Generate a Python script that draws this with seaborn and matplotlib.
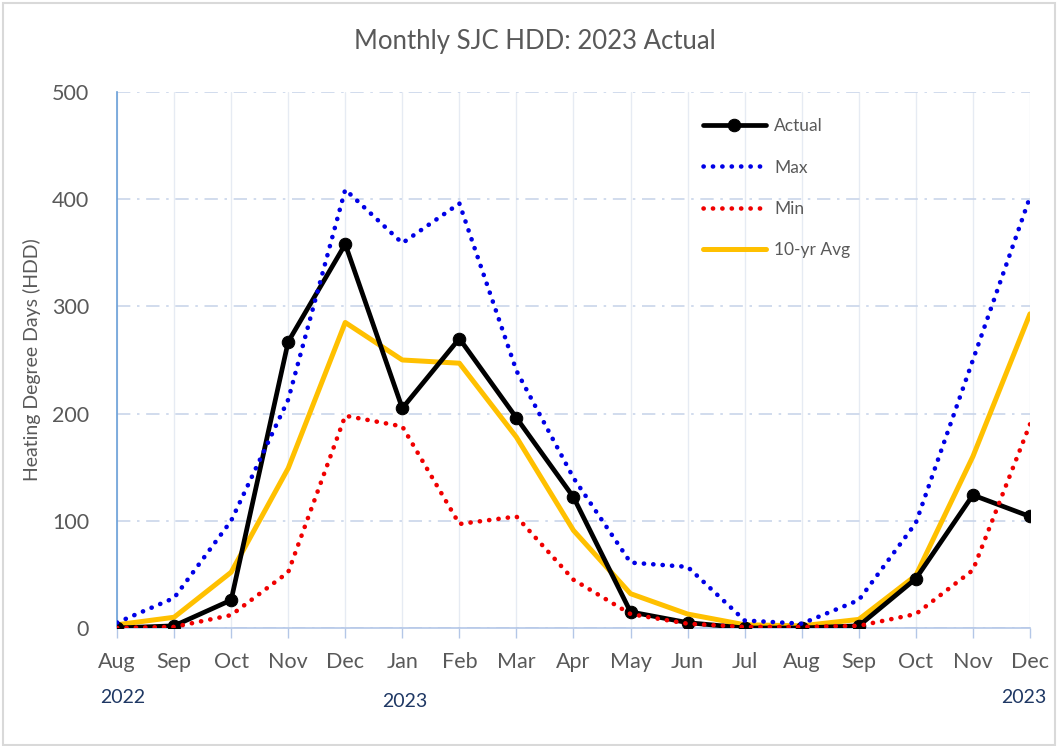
import matplotlib
matplotlib.use("Agg")
import matplotlib.pyplot as plt
import seaborn as sns
import pandas as pd
from matplotlib.patches import Rectangle

months = ["Aug", "Sep", "Oct", "Nov", "Dec", "Jan", "Feb", "Mar", "Apr",
          "May", "Jun", "Jul", "Aug", "Sep", "Oct", "Nov", "Dec"]
actual = [0, 2, 26, 267, 358, 205, 270, 196, 122, 15, 5, 0, 0, 2, 46, 124, 104]
max_hdd = [5, 28, 100, 213, 409, 359, 396, 240, 140, 61, 57, 7, 4, 26, 98, 250, 402]
min_hdd = [0, 1, 12, 52, 198, 188, 97, 104, 45, 13, 4, 1, 1, 2, 13, 54, 190]
avg10 = [3, 10, 52, 149, 285, 250, 247, 178, 91, 32, 13, 3, 2, 8, 49, 160, 293]
year_labels = ["2022", "2023", "2023"]

sns.set_theme(style="white")
plt.rcParams["font.family"] = ["Lato", "DejaVu Sans"]

df = pd.DataFrame({"x": range(len(months)), "Actual": actual, "Max": max_hdd,
                   "Min": min_hdd, "10-yr Avg": avg10})

fig = plt.figure(figsize=(10.58, 7.46), dpi=100)
fig.patch.set_facecolor("white")
fig.add_artist(Rectangle((0.003, 0.002), 0.994, 0.994, transform=fig.transFigure,
                         fill=False, edgecolor="#d9d9d9", linewidth=1.5))
ax = fig.add_axes([0.1106, 0.1582, 0.8629, 0.7185])

sns.lineplot(data=df, x="x", y="10-yr Avg", ax=ax, color="#FFC000", linewidth=3.6,
             label="10-yr Avg", zorder=3)
sns.lineplot(data=df, x="x", y="Actual", ax=ax, color="black", linewidth=3.4,
             marker="o", markersize=9, markeredgecolor="black", label="Actual", zorder=4)
sns.lineplot(data=df, x="x", y="Max", ax=ax, color="#0000E6", linewidth=3.3,
             linestyle=(0, (0.05, 2.0)), dash_capstyle="round", label="Max", zorder=5)
sns.lineplot(data=df, x="x", y="Min", ax=ax, color="#F00000", linewidth=3.3,
             linestyle=(0, (0.05, 2.0)), dash_capstyle="round", label="Min", zorder=5)

for ln in ax.get_lines():
    ln.set_dash_capstyle("round")

ax.set_xlim(0, 16)
ax.set_ylim(0, 500)
ax.set_xticks(range(len(months)))
ax.set_xticklabels(months)
ax.set_yticks([0, 100, 200, 300, 400, 500])
ax.set_xlabel("")
ax.set_ylabel("Heating Degree Days (HDD)", fontsize=14, color="#595959", labelpad=8)

ax.tick_params(axis="x", which="major", length=7, width=1, color="#b4c7e7",
               direction="out", labelsize=15.5, labelcolor="#595959", pad=10, bottom=True)
ax.tick_params(axis="y", length=0, labelsize=15.5, labelcolor="#595959", pad=20)

ax.yaxis.grid(True, color="#c9d5ea", linestyle=(0, (8, 4, 1.5, 4)), linewidth=1.2)
ax.xaxis.grid(True, color="#e6ebf3", linestyle="-", linewidth=1)
ax.set_axisbelow(True)

for s in ["top", "right"]:
    ax.spines[s].set_visible(False)
ax.spines["left"].set_color("#6a9fd8")
ax.spines["left"].set_linewidth(1.2)
ax.spines["bottom"].set_color("#b4c7e7")
ax.spines["bottom"].set_linewidth(1.2)

fig.text(0.506, 0.945, "Monthly SJC HDD: 2023 Actual", fontsize=18.5, color="#595959",
         ha="center", va="center")

year_pos = [(0.1, -0.13), (5.05, -0.137), (15.9, -0.13)]
for (xi, yi), txt in zip(year_pos, year_labels):
    ax.text(xi, yi, txt, transform=ax.get_xaxis_transform(),
            ha="center", va="center", fontsize=14, color="#1f3864")

handles, labels = ax.get_legend_handles_labels()
order = ["Actual", "Max", "Min", "10-yr Avg"]
h = [handles[labels.index(o)] for o in order]
leg = ax.legend(h, order, loc="upper left", bbox_to_anchor=(0.625, 0.98), frameon=False,
                fontsize=12.5, labelspacing=1.45, handlelength=3.6, handletextpad=0.5,
                labelcolor="#595959")

fig.savefig("out.png", dpi=100)
